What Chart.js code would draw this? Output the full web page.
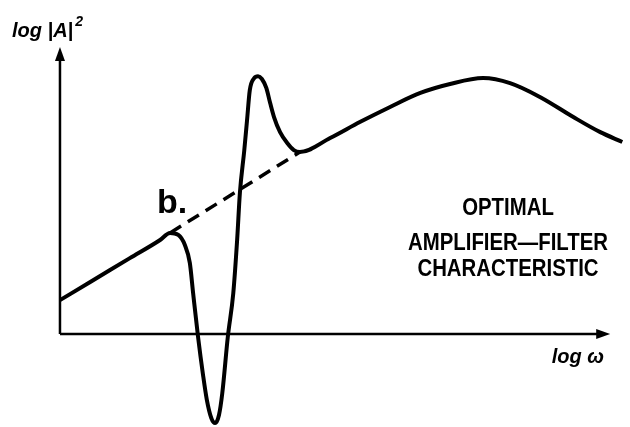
<!DOCTYPE html>
<html>
<head>
<meta charset="utf-8">
<script src="https://cdn.jsdelivr.net/npm/chart.js@4"></script>
<style>
  html, body { margin: 0; padding: 0; background: #fff; }
  #wrap { width: 630px; height: 427px; }
</style>
</head>
<body>
<div id="wrap"><canvas id="chart" width="630" height="427"></canvas></div>
<script>
// ==========================================
// 1. DATA (log w vs log |A|^2, arbitrary units)
// ==========================================
const omega = [0, 0.55, 1.27, 1.82, 2.0, 2.15, 2.27, 2.36, 2.42, 2.51, 2.6, 2.67, 2.75, 2.82,
  2.89, 2.95, 3.05, 3.15, 3.22, 3.27, 3.35, 3.4, 3.45, 3.53, 3.6, 3.67, 3.75, 3.82, 3.89,
  4.0, 4.13, 4.25, 4.36, 4.91, 5.45, 6.0, 6.55, 7.09, 7.69, 8.18, 8.73, 9.33, 9.82, 10.22];
const gain = [1.21, 1.86, 2.71, 3.36, 3.61, 3.54, 3.18, 2.54, 1.46, -0.11, -1.46, -2.36, -3.0, -3.18,
  -2.89, -2.11, -0.11, 1.46, 3.36, 5.04, 6.57, 7.64, 8.71, 9.14, 9.21, 9.11, 8.79, 8.25, 7.75,
  7.21, 6.82, 6.57, 6.5, 7.0, 7.57, 8.11, 8.61, 8.93, 9.14, 8.96, 8.46, 7.75, 7.21, 6.86];

// dashed asymptote "b." bridging the resonance
const asymptoteOmega = [2.0, 4.36];
const asymptoteGain = [3.61, 6.5];

// axis extents (arrow tips)
const xAxisEnd = 10.0;
const yAxisEnd = 10.25;

const annotationLines = ['OPTIMAL', 'AMPLIFIER\u2014FILTER', 'CHARACTERISTIC'];

// ==========================================
// 2. PLUGIN: axes with arrows + labels
// ==========================================
const sketchPlugin = {
  id: 'sketch',
  afterDatasetsDraw(chart) {
    const { ctx, scales: { x, y } } = chart;
    const x0 = x.getPixelForValue(0), y0 = y.getPixelForValue(0);
    const xEnd = x.getPixelForValue(xAxisEnd), yEnd = y.getPixelForValue(yAxisEnd);

    ctx.save();
    ctx.strokeStyle = '#000';
    ctx.fillStyle = '#000';
    ctx.lineWidth = 2.5;
    ctx.beginPath();
    ctx.moveTo(x0, y0); ctx.lineTo(xEnd - 10, y0);
    ctx.moveTo(x0, y0); ctx.lineTo(x0, yEnd + 10);
    ctx.stroke();

    // arrow heads
    ctx.beginPath();
    ctx.moveTo(xEnd, y0); ctx.lineTo(xEnd - 14, y0 - 5); ctx.lineTo(xEnd - 14, y0 + 5); ctx.closePath();
    ctx.fill();
    ctx.beginPath();
    ctx.moveTo(x0, yEnd); ctx.lineTo(x0 - 5, yEnd + 14); ctx.lineTo(x0 + 5, yEnd + 14); ctx.closePath();
    ctx.fill();

    // axis titles
    ctx.textBaseline = 'alphabetic';
    ctx.textAlign = 'left';
    ctx.font = 'italic bold 20px "Liberation Sans", Arial, sans-serif';
    ctx.fillText('log |A|', 12, 37);
    const w = ctx.measureText('log |A|').width;
    ctx.font = 'italic bold 14px "Liberation Sans", Arial, sans-serif';
    ctx.fillText('2', 12 + w + 2, 26);

    ctx.font = 'italic bold 20px "Liberation Sans", Arial, sans-serif';
    ctx.textAlign = 'right';
    ctx.fillText('log \u03c9', 604, 363);

    // "b." marker
    ctx.textAlign = 'left';
    ctx.font = 'bold 34px "Liberation Sans", Arial, sans-serif';
    ctx.fillText('b.', 157, 213);

    // annotation block, condensed lettering
    ctx.textAlign = 'center';
    ctx.font = 'bold 23px "Liberation Sans", Arial, sans-serif';
    const squeeze = 200 / ctx.measureText(annotationLines[1]).width;
    const baselines = [215, 250, 276];
    ctx.translate(508, 0);
    ctx.scale(squeeze, 1);
    annotationLines.forEach((t, i) => ctx.fillText(t, 0, baselines[i]));
    ctx.restore();
  }
};

// ==========================================
// 3. CHART
// ==========================================
const toPoints = (xs, ys) => xs.map((v, i) => ({ x: v, y: ys[i] }));

new Chart(document.getElementById('chart'), {
  type: 'line',
  data: {
    datasets: [
      {
        data: toPoints(omega, gain),
        borderColor: '#000',
        borderWidth: 4,
        pointRadius: 0,
        cubicInterpolationMode: 'monotone',
        fill: false,
        clip: false
      },
      {
        data: toPoints(asymptoteOmega, asymptoteGain),
        borderColor: '#000',
        borderWidth: 3.5,
        borderDash: [13, 8],
        pointRadius: 0,
        fill: false,
        clip: false
      }
    ]
  },
  options: {
    responsive: false,
    animation: false,
    layout: { padding: 0 },
    plugins: { legend: { display: false }, tooltip: { enabled: false } },
    scales: {
      x: { type: 'linear', min: -1.09, max: 10.36, display: false },
      y: { type: 'linear', min: -3.32, max: 11.93, display: false }
    }
  },
  plugins: [sketchPlugin]
});
</script>
</body>
</html>
